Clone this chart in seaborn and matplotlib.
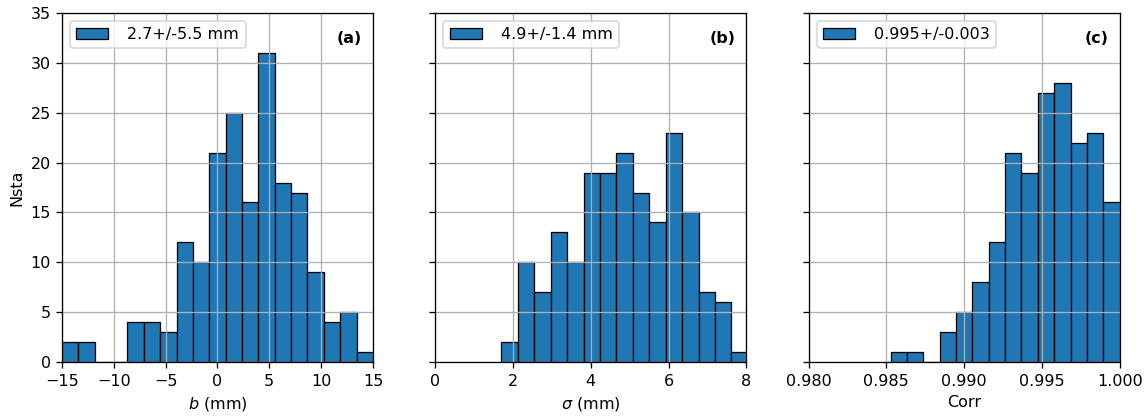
import numpy as np
import pandas as pd
import matplotlib
matplotlib.use("Agg")
import matplotlib.pyplot as plt
import seaborn as sns

# histogram counts (184 stations)
b_edges = np.linspace(-15, 15, 20)
b_counts = [2, 2, 0, 0, 4, 4, 3, 12, 10, 21, 25, 16, 31, 18, 17, 9, 4, 5, 1]

sig_edges = np.linspace(1.70, 8.04, 16)
sig_counts = [2, 10, 7, 13, 10, 19, 19, 21, 17, 14, 23, 15, 7, 6, 1]

corr_edges = np.linspace(0.98527, 1.0, 15)
corr_counts = [1, 1, 0, 3, 5, 8, 12, 21, 19, 27, 28, 22, 23, 16]

labels = ["2.7+/-5.5 mm", "4.9+/-1.4 mm", "0.995+/-0.003"]
tags = ["(a)", "(b)", "(c)"]
xlabels = ["$b$ (mm)", r"$\sigma$ (mm)", "Corr"]
xlims = [(-15, 15), (0, 8), (0.98, 1.0)]
xticks = [np.arange(-15, 16, 5), np.arange(0, 9, 2), [0.980, 0.985, 0.990, 0.995, 1.000]]

dpi = 115
fig, axes = plt.subplots(1, 3, sharey=True, figsize=(1146 / dpi, 416 / dpi), dpi=dpi)
fig.subplots_adjust(left=0.054, right=0.977, bottom=0.129, top=0.9695, wspace=0.2)

data = [(b_edges, b_counts), (sig_edges, sig_counts), (corr_edges, corr_counts)]
for i, ax in enumerate(axes):
    edges, counts = data[i]
    df = pd.DataFrame({"x": (edges[:-1] + edges[1:]) / 2, "w": counts})
    sns.histplot(data=df, x="x", weights="w", bins=list(edges), ax=ax, color="#1f77b4",
                 alpha=1, edgecolor="k", linewidth=0.8, label=labels[i])
    ax.set_xlim(*xlims[i])
    ax.set_xticks(xticks[i])
    ax.set_xlabel(xlabels[i])
    ax.set_ylabel("")
    ax.grid(True)
    ax.legend(loc="upper left", handletextpad=1.2)
    ax.text(0.965, 0.927, tags[i], transform=ax.transAxes, ha="right", va="center",
            fontweight="bold")

axes[0].set_ylim(0, 35)
axes[0].set_yticks(np.arange(0, 36, 5))
axes[0].set_ylabel("Nsta")
axes[2].set_xticklabels(["0.980", "0.985", "0.990", "0.995", "1.000"])

fig.savefig("out.png", dpi=dpi)
